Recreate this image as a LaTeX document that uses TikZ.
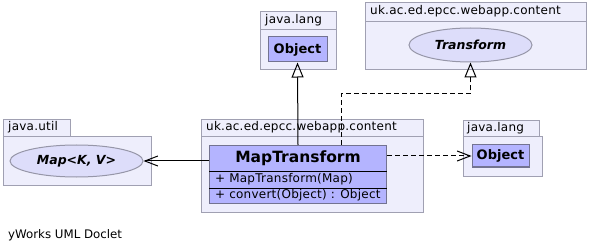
\documentclass[tikz,border=0pt]{standalone}
\usepackage{fontspec}
\setmainfont{DejaVu Sans}
\newfontfamily\rowfont[LetterSpace=2]{DejaVu Sans}
\newfontfamily\pkgfont[LetterSpace=2]{DejaVu Sans}
\usetikzlibrary{arrows.meta,shapes.geometric}

\definecolor{pkgfill}{RGB}{238,238,252}
\definecolor{pkgdraw}{RGB}{160,160,178}
\definecolor{classfill}{RGB}{180,180,255}
\definecolor{classdraw}{RGB}{115,115,145}
\definecolor{ifacefill}{RGB}{221,221,250}
\definecolor{ifacedraw}{RGB}{150,150,168}

\begin{document}
\begin{tikzpicture}[x=1pt,y=-1pt,
  pkgbox/.style={draw=pkgdraw, fill=pkgfill, line width=1pt, inner sep=0pt, anchor=north west},
  pkglabel/.style={anchor=west, inner sep=0pt, font=\pkgfont\fontsize{12}{14}\selectfont},
  classbox/.style={draw=classdraw, fill=classfill, line width=1pt, inner sep=0pt, anchor=north west},
  rowlabel/.style={anchor=west, inner sep=0pt, font=\rowfont\fontsize{12}{14}\selectfont},
  classname/.style={font=\fontsize{13}{15}\bfseries\selectfont},
  iface/.style={ellipse, draw=ifacedraw, fill=ifacefill, line width=1pt, inner sep=0pt,
    font=\fontsize{12.5}{15}\bfseries\itshape\selectfont},
  conn/.style={line width=1pt, black},
  depend/.style={conn, dash pattern=on 5pt off 3pt},
  inherit/.style={-{Triangle[open, length=15pt, width=12pt]}},
  uses/.style={-{Straight Barb[length=13pt, width=10pt]}}
]
\useasboundingbox (0,0) rectangle (589,251);
\fill[white] (0,0) rectangle (589,251);

% package java.util (tabbed)
\node[pkgbox, minimum width=148pt, minimum height=49pt] (utilBody) at (3,136) {};
\node[pkgbox, minimum width=67pt, minimum height=17pt] (utilTab) at (3,119) {};
\node[pkglabel] (utilName) at (8,127.5) {java.util};
\node[iface, minimum width=133pt, minimum height=32pt] (map) at (76.5,161) {Map<K, V>};

% package uk.ac.ed.epcc.webapp.content (centre)
\node[pkgbox, minimum width=222pt, minimum height=76pt] (contentBody) at (201,136) {};
\node[pkgbox, minimum width=222pt, minimum height=17pt] (contentTab) at (201,119) {};
\node[pkglabel] (contentName) at (206,127.5) {uk.ac.ed.epcc.webapp.content};

% class MapTransform
\node[classbox, minimum width=177pt, minimum height=26pt] (mtHead) at (209,145) {};
\node[classbox, minimum width=177pt, minimum height=17pt] (mtCtor) at (209,171) {};
\node[classbox, minimum width=177pt, minimum height=15pt] (mtConv) at (209,188) {};
\draw[black, line width=1pt] (mtCtor.north west) -- (mtCtor.north east)
  (mtConv.north west) -- (mtConv.north east);
\node[font=\fontsize{15.5}{18}\bfseries\selectfont] (mtName) at (mtHead.center) {MapTransform};
\node[rowlabel] (mtCtorText) at (215,179.5) {+ MapTransform(Map)};
\node[rowlabel] (mtConvText) at (215,195.5) {+ convert(Object) : Object};

% package java.lang (top)
\node[pkgbox, minimum width=76pt, minimum height=40pt] (langTopBody) at (260,29) {};
\node[pkgbox, minimum width=76pt, minimum height=18pt] (langTopTab) at (260,11) {};
\node[pkglabel] (langTopName) at (265,20) {java.lang};
\node[classbox, classname, minimum width=59pt, minimum height=25pt, anchor=center] (objTop) at (297.5,49.5) {Object};

% package uk.ac.ed.epcc.webapp.content (top right)
\node[pkgbox, minimum width=221pt, minimum height=48pt] (trBody) at (365,21) {};
\node[pkgbox, minimum width=221pt, minimum height=19pt] (trTab) at (365,2) {};
\node[pkglabel] (trName) at (370,11.5) {uk.ac.ed.epcc.webapp.content};
\node[iface, minimum width=123pt, minimum height=34pt] (transform) at (470.5,45) {Transform};

% package java.lang (right, tabbed)
\node[pkgbox, minimum width=79pt, minimum height=40pt] (langRBody) at (463,136) {};
\node[pkgbox, minimum width=76pt, minimum height=16pt] (langRTab) at (463,120) {};
\node[pkglabel] (langRName) at (467,128) {java.lang};
\node[classbox, classname, minimum width=57pt, minimum height=22pt, anchor=center] (objRight) at (500.5,156) {Object};

% connectors
\coordinate (realizeBend) at (341,94);
\draw[conn, inherit] (mtHead.north) -- (objTop.south);
\draw[depend, inherit] (mtHead.north -| realizeBend) -- (realizeBend) -| (transform.south);
\draw[conn, uses] (mtHead.west |- map.east) -- (map.east);
\draw[depend, uses] (objRight.west -| mtHead.east) -- (objRight.west);

\node[anchor=west, inner sep=0pt, font=\fontsize{11.8}{14}\selectfont] (footer) at (8,235) {yWorks UML Doclet};
\end{tikzpicture}
\end{document}
